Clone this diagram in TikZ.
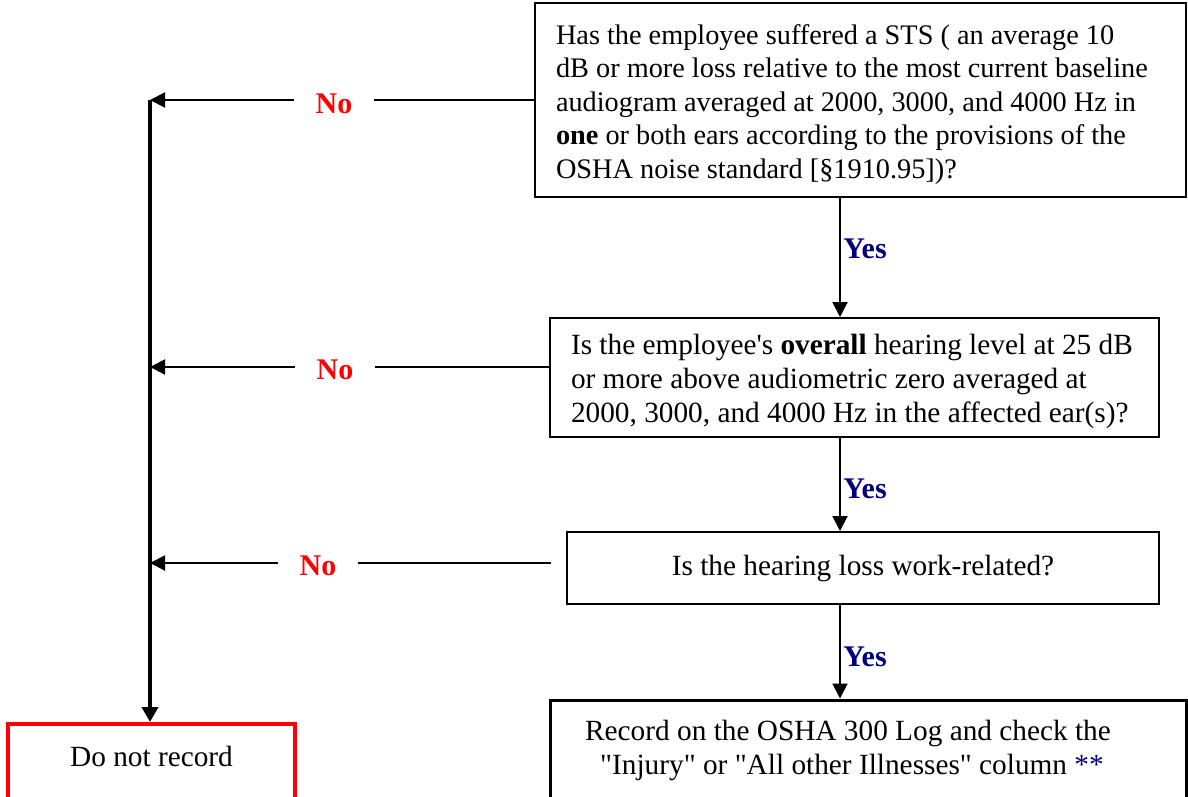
\documentclass[tikz,border=0pt]{standalone}
\usepackage{fontspec}
\setmainfont{Liberation Serif}
\usetikzlibrary{arrows.meta}
\definecolor{noRed}{RGB}{255,0,0}
\definecolor{yesBlue}{RGB}{0,0,128}
\begin{document}
\begin{tikzpicture}[x=1pt,y=-1pt,
  txt/.style={font=\fontsize{29.3}{34}\selectfont},
  box/.style={draw, line width=2pt, inner sep=0pt, txt},
  arr/.style={line width=2pt, -{Triangle[length=15pt,width=15pt]}},
  nolab/.style={fill=white, text=noRed, minimum width=80pt, inner sep=0pt,
    font=\fontsize{30}{34}\selectfont\bfseries},
  yeslab/.style={text=yesBlue, inner sep=0pt, font=\fontsize{30}{34}\selectfont\bfseries}
]
\useasboundingbox (0,0) rectangle (1188,796);

% boxes
\node[box, font=\fontsize{28.3}{33.5}\selectfont, minimum width=651pt, minimum height=194pt,
      text width=609pt, align=flush left] (q1) at (860.5,100)
  {\rule{0pt}{29pt}Has the employee suffered a STS ( an average 10\\
   dB or more loss relative to the most current baseline\\
   audiogram averaged at 2000, 3000, and 4000 Hz in\\
   \textbf{one} or both ears according to the provisions of the\\
   OSHA noise standard [§1910.95])?};
\node[box, minimum width=609pt, minimum height=119pt, text width=567pt, align=flush left] (q2) at (854.5,377.5)
  {\rule{0pt}{29pt}Is the employee\textquotesingle s \textbf{overall} hearing level at 25 dB\\
   or more above audiometric zero averaged at\\
   2000, 3000, and 4000 Hz in the affected ear(s)?};
\node[box, minimum width=592pt, minimum height=72pt, align=center] (q3) at (863,568)
  {\raisebox{3pt}{Is the hearing loss work-related?}};
\node[box, line width=3pt, minimum width=636pt, minimum height=100pt, align=center] (rec) at (868,750)
  {Record on the OSHA 300 Log and check the\hspace*{40pt}\\
   \textquotedbl Injury\textquotedbl{} or \textquotedbl All other Illnesses\textquotedbl{} column \textcolor{yesBlue}{**}\hspace*{32pt}};
\node[box, draw=noRed, line width=4pt, minimum width=287pt, minimum height=76pt] (dnr) at (151.5,762)
  {\raisebox{12pt}{Do not record}};

% coordinates
\coordinate (ax) at (840,0);
\coordinate (n1) at (150,100);
\coordinate (n2) at (150,367);
\coordinate (n3) at (150,563);
\coordinate (c3) at (551,563);

% vertical trunk
\draw[line width=4pt, -{Triangle[length=15pt,width=16pt]}] (n1) -- (dnr.north -| n1);

% No connectors
\draw[arr] (q1.west |- n1) -- (n1);
\node[nolab] at (334,104) {No};
\draw[arr] (q2.west |- n2) -- (n2);
\node[nolab] at (335,370) {No};
\draw[arr] (c3) -- (n3);
\node[nolab] at (318,566) {No};

% Yes connectors
\draw[arr] (q1.south -| ax) -- (q2.north -| ax);
\node[yeslab] at (865,249) {Yes};
\draw[arr] (q2.south -| ax) -- (q3.north -| ax);
\node[yeslab] at (865,489) {Yes};
\draw[arr] (q3.south -| ax) -- (rec.north -| ax);
\node[yeslab] at (865,657) {Yes};
\end{tikzpicture}
\end{document}
